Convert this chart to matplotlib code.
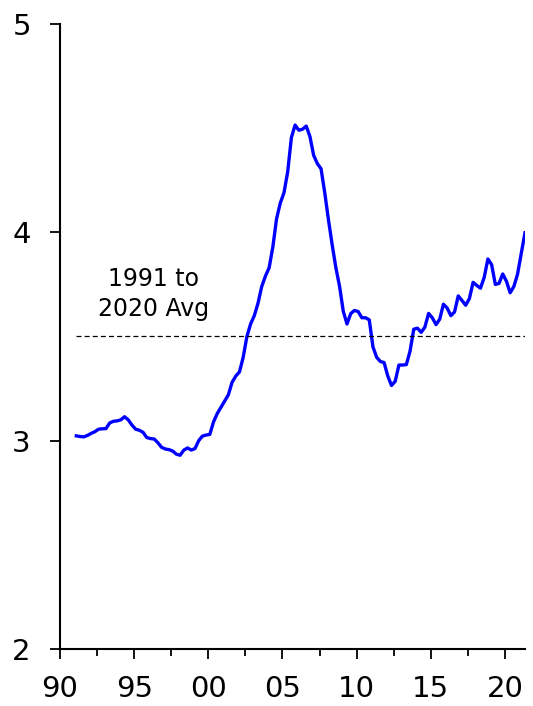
import matplotlib.pyplot as plt
import pandas as pd
from matplotlib.ticker import MultipleLocator, FuncFormatter

# quarterly values, 1991Q1 .. 2021Q2
valores = [
    3.023, 3.020, 3.018, 3.025,   # 1991
    3.035, 3.043, 3.055, 3.057,   # 1992
    3.058, 3.085, 3.093, 3.095,   # 1993
    3.100, 3.115, 3.100, 3.075,   # 1994
    3.055, 3.050, 3.040, 3.015,   # 1995
    3.010, 3.008, 2.990, 2.968,   # 1996
    2.960, 2.957, 2.950, 2.935,   # 1997
    2.930, 2.955, 2.965, 2.955,   # 1998
    2.962, 3.000, 3.022, 3.027,   # 1999
    3.030, 3.090, 3.130, 3.160,   # 2000
    3.190, 3.220, 3.280, 3.310,   # 2001
    3.330, 3.400, 3.500, 3.560,   # 2002
    3.600, 3.660, 3.740, 3.790,   # 2003
    3.830, 3.930, 4.065, 4.140,   # 2004
    4.190, 4.290, 4.455, 4.515,   # 2005
    4.490, 4.495, 4.510, 4.460,   # 2006
    4.370, 4.330, 4.305, 4.190,   # 2007
    4.060, 3.940, 3.830, 3.740,   # 2008
    3.620, 3.560, 3.610, 3.625,   # 2009
    3.620, 3.590, 3.590, 3.580,   # 2010
    3.450, 3.400, 3.380, 3.375,   # 2011
    3.310, 3.265, 3.285, 3.363,   # 2012
    3.363, 3.365, 3.430, 3.535,   # 2013
    3.540, 3.520, 3.545, 3.611,   # 2014
    3.590, 3.557, 3.583, 3.655,   # 2015
    3.637, 3.600, 3.618, 3.695,   # 2016
    3.673, 3.650, 3.682, 3.760,   # 2017
    3.745, 3.732, 3.784, 3.872,   # 2018
    3.845, 3.750, 3.755, 3.800,   # 2019
    3.765, 3.710, 3.740, 3.800,   # 2020
    3.900, 3.998,                 # 2021
]
trimestres = pd.period_range('1991Q1', '2021Q2', freq='Q')
promedio = 3.5
texto_promedio = "1991 to\n2020 Avg"

fechas = [t.year + (t.quarter - 1) / 4 + 0.1 for t in trimestres]

fig = plt.figure(figsize=(5.33, 7.06), dpi=100)
ax = fig.add_axes([60 / 533, 57 / 706, 465 / 533, 625 / 706])

ax.plot(fechas, valores, color='#0000ff', linewidth=2.4)
ax.hlines(promedio, fechas[0], fechas[-1], colors='black', linestyles=(0, (4, 2.5)), linewidth=0.9)
ax.text(1996.3, 3.705, texto_promedio, ha='center', va='center', fontsize=17, linespacing=1.3)

ax.set_xlim(1990, fechas[-1])
ax.set_ylim(2, 5)
ax.yaxis.set_major_locator(MultipleLocator(1))
ax.xaxis.set_major_locator(MultipleLocator(5))
ax.xaxis.set_minor_locator(MultipleLocator(2.5))
ax.xaxis.set_major_formatter(FuncFormatter(lambda v, p: f"{int(round(v)) % 100:02d}"))

for lado in ['top', 'right']:
    ax.spines[lado].set_visible(False)
for lado in ['left', 'bottom']:
    ax.spines[lado].set_linewidth(1.5)

ax.tick_params(axis='both', which='major', direction='out', length=7, width=1.3,
               labelsize=21, pad=12)
ax.tick_params(axis='x', which='minor', direction='out', length=5, width=1.3)
ax.tick_params(axis='y', pad=14)

fig.savefig('out.png', dpi=100)
